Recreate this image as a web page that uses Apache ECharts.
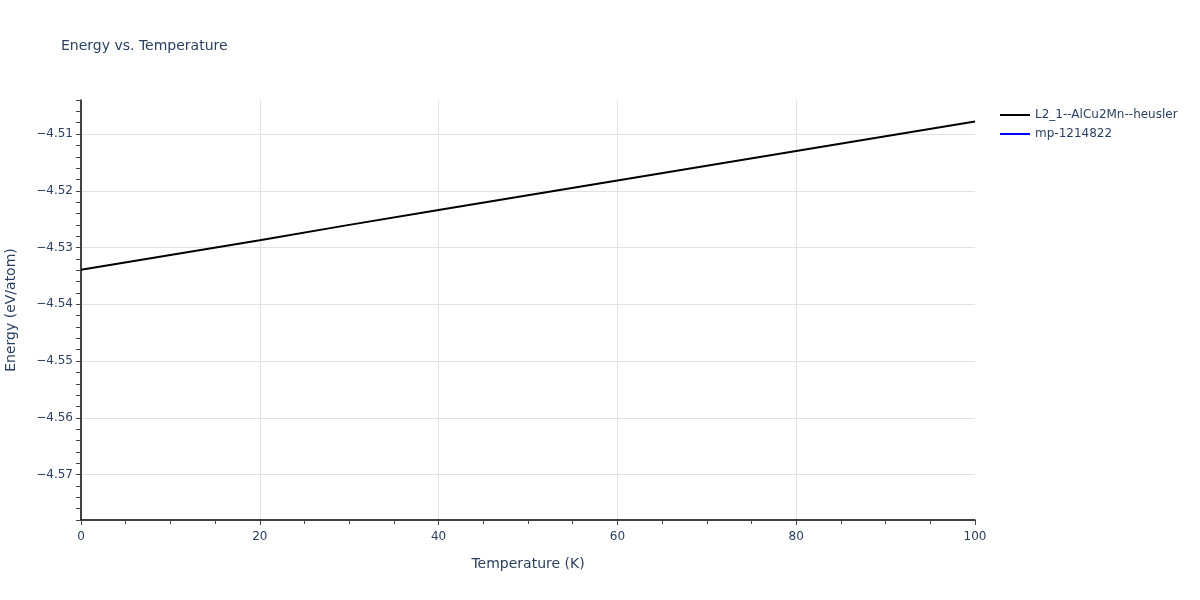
<!DOCTYPE html>
<html><head><meta charset="utf-8">
<script src="https://cdn.jsdelivr.net/npm/echarts@6/dist/echarts.min.js"></script>
<style>html,body{margin:0;padding:0;background:#fff}#c{width:1200px;height:600px}</style>
</head><body><div id="c"></div>
<script>
const temperatures = [0, 10, 20, 30, 40, 50, 60, 70, 80, 90, 100];
const energyL21 = [-4.5339, -4.5313, -4.5287, -4.5260, -4.5234, -4.5208, -4.5182, -4.5156, -4.5130, -4.5104, -4.5078];
const energyMp = [];
const yTickLabels = [-4.57, -4.56, -4.55, -4.54, -4.53, -4.52, -4.51];
const xTickLabels = [0, 20, 40, 60, 80, 100];
const xGridValues = [20, 40, 60, 80];

const font = '"DejaVu Sans", Verdana, sans-serif';
const txt = '#2a3f5f';
const fmtY = v => v.toFixed(2).replace('-', '\u2212');

const chart = echarts.init(document.getElementById('c'));
chart.setOption({
  animation: false,
  backgroundColor: '#fff',
  title: { text: 'Energy vs. Temperature', left: 56, top: 34,
    textStyle: { fontFamily: font, fontSize: 14, fontWeight: 'normal', color: txt } },
  legend: {
    orient: 'vertical', left: 995, top: 104, itemWidth: 30, itemHeight: 2, itemGap: 7,
    icon: 'rect',
    textStyle: { fontFamily: font, fontSize: 12, color: txt },
    data: ['L2_1--AlCu2Mn--heusler', 'mp-1214822']
  },
  grid: { left: 81, right: 225, top: 100, bottom: 80, containLabel: false, outerBoundsMode: 'none' },
  xAxis: [{
    type: 'value', min: 0, max: 100, interval: 20, position: 'bottom',
    axisLine: { show: true, lineStyle: { color: '#000', width: 1.5 } },
    axisTick: { show: true, length: 5, lineStyle: { color: '#444' } },
    minorTick: { show: true, splitNumber: 4, length: 4, lineStyle: { color: '#444' } },
    axisLabel: { show: false },
    splitLine: { show: false }
  }, {
    type: 'value', min: 0, max: 100, position: 'bottom',
    name: 'Temperature (K)', nameLocation: 'middle', nameGap: 37,
    nameTextStyle: { fontFamily: font, fontSize: 14, color: txt },
    axisLine: { show: false },
    axisTick: { show: false, customValues: xGridValues },
    axisLabel: { fontFamily: font, fontSize: 12, color: txt, margin: 11,
      customValues: xTickLabels },
    splitLine: { show: true, lineStyle: { color: '#e1e1e1', width: 1 } }
  }],
  yAxis: [{
    type: 'value', min: -4.578, max: -4.504, interval: 0.002,
    axisLine: { show: true, lineStyle: { color: '#000', width: 1.5 } },
    axisTick: { show: true, length: 5, lineStyle: { color: '#444' } },
    axisLabel: { show: false },
    splitLine: { show: false }
  }, {
    type: 'value', min: -4.578, max: -4.504, position: 'left',
    name: 'Energy (eV/atom)', nameLocation: 'middle', nameGap: 63,
    nameTextStyle: { fontFamily: font, fontSize: 14, color: txt },
    axisLine: { show: false },
    axisTick: { show: false, customValues: yTickLabels },
    axisLabel: { fontFamily: font, fontSize: 12, color: txt, margin: 8,
      customValues: yTickLabels, formatter: fmtY },
    splitLine: { show: true, lineStyle: { color: '#e1e1e1', width: 1 } }
  }],
  series: [{
    name: 'L2_1--AlCu2Mn--heusler', type: 'line', xAxisIndex: 0, yAxisIndex: 1,
    data: temperatures.map((t, i) => [t, energyL21[i]]),
    showSymbol: false, lineStyle: { color: '#000', width: 2 }, itemStyle: { color: '#000' }
  }, {
    name: 'mp-1214822', type: 'line', xAxisIndex: 0, yAxisIndex: 1,
    data: energyMp,
    showSymbol: false, lineStyle: { color: '#0000ff', width: 2 }, itemStyle: { color: '#0000ff' }
  }]
});
</script></body></html>
